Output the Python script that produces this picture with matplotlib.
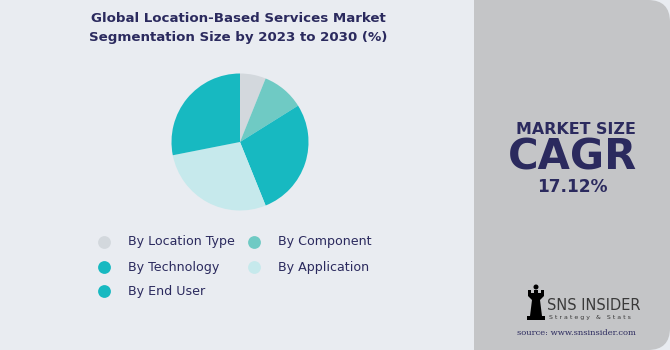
import matplotlib
matplotlib.use("Agg")
import matplotlib.pyplot as plt
from matplotlib.patches import FancyBboxPatch, Rectangle, Polygon

categories = ["By Location Type", "By Component", "By Technology", "By Application", "By End User"]
values = [6.1, 10.0, 27.8, 28.0, 28.1]
colors = ["#d3d8dd", "#6fcac4", "#17b9c1", "#c6e9ec", "#17b9c1"]
title_lines = ["Global Location-Based Services Market", "Segmentation Size by 2023 to 2030 (%)"]
cagr_value = "17.12%"

W, H = 670, 350
fig = plt.figure(figsize=(W / 100, H / 100), dpi=100)
fig.patch.set_facecolor("#e9ecf1")

bg = fig.add_axes([0, 0, 1, 1])
bg.set_xlim(0, W)
bg.set_ylim(H, 0)
bg.axis("off")

navy = "#2b2a5e"
font = "DejaVu Sans"

# right panel
panel = FancyBboxPatch((474 - 30, 0), W - 474 + 30, H, boxstyle="round,pad=0,rounding_size=22",
                       fc="#c4c5c7", ec="none", zorder=1)
bg.add_patch(panel)
bg.add_patch(Rectangle((474, 0), 40, H, fc="#c4c5c7", ec="none", zorder=1))
bg.add_patch(Rectangle((440, 0), 34, H, fc="#e9ecf1", ec="none", zorder=1.5))

# title
bg.text(238, 19, title_lines[0], ha="center", va="center", fontsize=9.6, fontweight="bold",
        color=navy, family=font)
bg.text(238, 37, title_lines[1], ha="center", va="center", fontsize=9.6, fontweight="bold",
        color=navy, family=font)

# right texts
bg.text(576, 134, "MARKET SIZE", ha="center", va="baseline", fontsize=11.4, fontweight="bold",
        color=navy, family=font, zorder=3)
bg.text(573, 169.5, "CAGR", ha="center", va="baseline", fontsize=30, fontweight="bold",
        color=navy, family=font, zorder=3)
bg.text(572, 191.5, cagr_value, ha="center", va="baseline", fontsize=12.2, fontweight="bold",
        color=navy, family=font, zorder=3)

# logo
rook = Polygon([(527, 320), (545, 320), (545, 316), (542, 316), (540, 300), (544, 296), (544, 290),
                (541, 290), (541, 293), (538, 293), (538, 290), (534, 290), (534, 293), (531, 293),
                (531, 290), (528, 290), (528, 296), (532, 300), (530, 316), (527, 316)],
               closed=True, fc="black", ec="none", zorder=3)
bg.add_patch(rook)
bg.add_patch(plt.Circle((536, 287), 2.5, fc="black", ec="none", zorder=3))
bg.text(547, 305, "SNS INSIDER", ha="left", va="center", fontsize=10.5, color="#3a3a3a",
        family="DejaVu Sans Condensed", zorder=3)
bg.text(549, 317, "S t r a t e g y   &   S t a t s", ha="left", va="center", fontsize=4.5,
        color="#3a3a3a", family=font, zorder=3)
bg.text(576, 333, "source: www.snsinsider.com", ha="center", va="center", fontsize=6,
        color=navy, family="DejaVu Serif", zorder=3)

# legend
leg_pos = [(104, 242), (254, 242), (104, 267), (254, 267), (104, 291)]
for (x, y), lab, c in zip(leg_pos, categories, colors):
    bg.scatter([x], [y], s=85, color=c, zorder=3, linewidths=0)
    bg.text(x + 24, y, lab, ha="left", va="center", fontsize=9.1, color=navy, family=font)

# pie
cx, cy, r = 240, 142, 68.5
pax = fig.add_axes([(cx - r) / W, (H - cy - r) / H, 2 * r / W, 2 * r / H])
pax.pie(values, colors=colors, startangle=90, counterclock=False,
        wedgeprops=dict(linewidth=0))
pax.set_aspect("auto")
pax.set_xlim(-1, 1)
pax.set_ylim(-1, 1)
pax.axis("off")

fig.savefig("out.png", dpi=100, facecolor=fig.get_facecolor())
